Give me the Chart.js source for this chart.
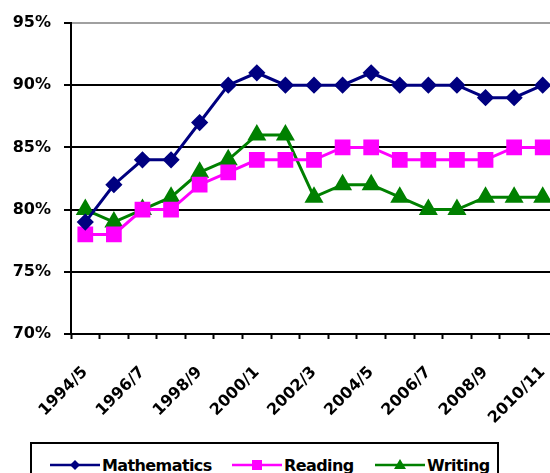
<!DOCTYPE html>
<html>
<head>
<meta charset="utf-8">
<script src="https://cdn.jsdelivr.net/npm/chart.js@4/dist/chart.umd.min.js"></script>
<style>
  html, body { margin: 0; padding: 0; background: #fff; overflow: hidden; }
  #wrap { position: relative; width: 569px; height: 473px; }
  #c { display: block; }
  #legend { position: absolute; left: 30px; top: 442px; width: 469px; height: 45px;
            border: 2px solid #000; box-sizing: border-box; background: #fff; }
  .item { position: absolute; top: 9px; height: 24px; display: flex; align-items: center;
          font: bold 16px "DejaVu Sans"; color: #000; letter-spacing: -0.6px; white-space: nowrap; }
  .item svg { display: block; margin-right: 2px; }
</style>
</head>
<body>
<div id="wrap">
  <canvas id="c" width="569" height="473" style="width:569px;height:473px"></canvas>
  <div id="legend"></div>
</div>
<script>
const categories = ['1994/5','1995/6','1996/7','1997/8','1998/9','1999/0','2000/1','2001/2','2002/3','2003/4','2004/5','2005/6','2006/7','2007/8','2008/9','2009/10','2010/11'];
const shownLabels = ['1994/5','1996/7','1998/9','2000/1','2002/3','2004/5','2006/7','2008/9','2010/11'];
const mathematics = [79, 82, 84, 84, 87, 90, 91, 90, 90, 90, 91, 90, 90, 90, 89, 89, 90];
const reading     = [78, 78, 80, 80, 82, 83, 84, 84, 84, 85, 85, 84, 84, 84, 84, 85, 85];
const writing     = [80, 79, 80, 81, 83, 84, 86, 86, 81, 82, 82, 81, 80, 80, 81, 81, 81];
const seriesNames = ['Mathematics', 'Reading', 'Writing'];
const seriesColors = ['#000080', '#FF00FF', '#008000'];
const yMin = 70, yMax = 95, yStep = 5;

const canvas = document.getElementById('c');

new Chart(canvas, {
  type: 'line',
  data: {
    labels: categories,
    datasets: [
      { label: seriesNames[0], data: mathematics, borderColor: seriesColors[0], backgroundColor: seriesColors[0],
        pointStyle: 'rectRot', pointRadius: 6.5, borderWidth: 3, tension: 0 },
      { label: seriesNames[1], data: reading, borderColor: seriesColors[1], backgroundColor: seriesColors[1],
        pointStyle: 'rect', pointRadius: 9, borderWidth: 3, tension: 0 },
      { label: seriesNames[2], data: writing, borderColor: seriesColors[2], backgroundColor: seriesColors[2],
        pointStyle: 'triangle', pointRadius: 8, borderWidth: 3, tension: 0 }
    ]
  },
  options: {
    responsive: false,
    animation: false,
    devicePixelRatio: 1,
    layout: { padding: { top: 23, right: 3, left: 0, bottom: 0 } },
    plugins: { legend: { display: false }, tooltip: { enabled: false } },
    elements: { point: { borderWidth: 1 } },
    scales: {
      x: {
        offset: true,
        grid: { offset: true, drawOnChartArea: false, drawTicks: true, tickLength: 5, tickColor: '#000', tickWidth: 2 },
        border: { color: '#000', width: 2 },
        ticks: {
          autoSkip: false, maxRotation: 45, minRotation: 45, padding: 24,
          color: '#000', font: { family: 'DejaVu Sans', weight: 'bold', size: 16 },
          callback: function(v, i) { const l = categories[i]; return shownLabels.includes(l) ? l : ''; }
        },
        afterFit: function(s) { s.height = 139; s.paddingRight = 0; s.paddingLeft = 0; }
      },
      y: {
        min: yMin, max: yMax,
        grid: { color: (c) => (c.tick && c.tick.value === yMax) ? '#a0a0a0' : '#000', lineWidth: 2,
                tickLength: 7, tickColor: '#000', tickWidth: 2 },
        border: { color: '#000', width: 2 },
        ticks: { stepSize: yStep, padding: 13, color: '#000',
                 font: { family: 'DejaVu Sans', weight: 'bold', size: 16 },
                 callback: (v) => v + '%' },
        afterFit: function(s) { s.width = 71; }
      }
    }
  }
});

// HTML legend (text as real text)
const legend = document.getElementById('legend');
const legendX = [18, 200, 343];
const markers = [
  '<polygon points="25,2 30,7 25,12 20,7" fill="#000080"/>',
  '<rect x="20" y="2" width="10" height="10" fill="#FF00FF"/>',
  '<polygon points="25,1 31,11 19,11" fill="#008000"/>'
];
seriesNames.forEach((name, i) => {
  const d = document.createElement('div');
  d.className = 'item';
  d.style.left = legendX[i] + 'px';
  d.innerHTML = '<svg width="50" height="14"><line x1="0" y1="7" x2="50" y2="7" stroke="' + seriesColors[i] + '" stroke-width="2.5"/>' + markers[i] + '</svg><span>' + name + '</span>';
  legend.appendChild(d);
});
</script>
</body>
</html>
